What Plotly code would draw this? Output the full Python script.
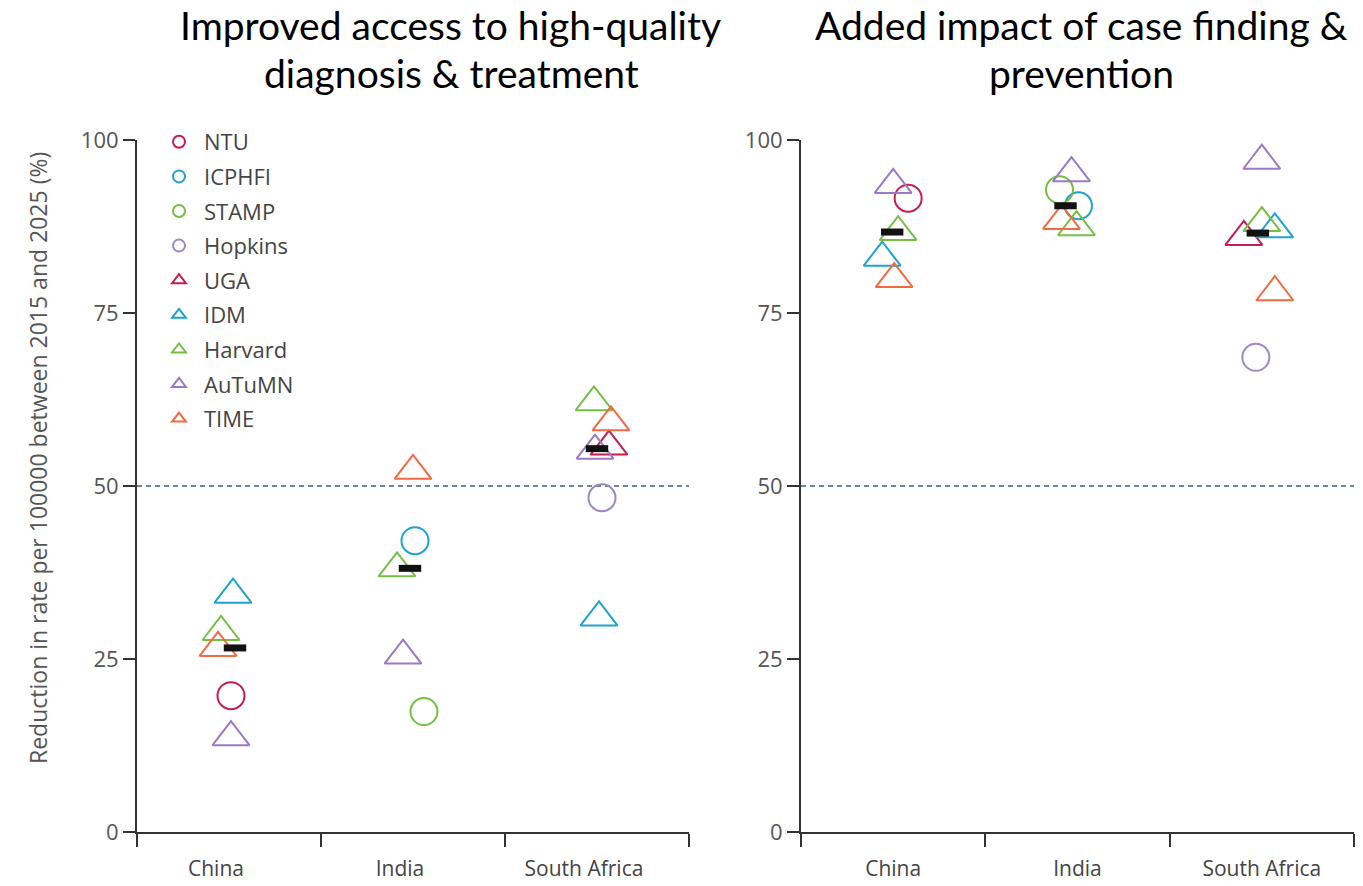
import numpy as np
import plotly.graph_objects as go
from plotly.subplots import make_subplots

# ---- data -------------------------------------------------------------
countries = ["China", "India", "South Africa"]
models = ["NTU", "ICPHFI", "STAMP", "Hopkins", "UGA", "IDM", "Harvard", "AuTuMN", "TIME"]

# Reduction in incidence (%) 2015-2025, ordered China, India, South Africa
# Scenario 1: improved access to high-quality diagnosis & treatment
access_NTU = [19.7, None, None]
access_ICPHFI = [None, 42.1, None]
access_STAMP = [None, 17.4, None]
access_Hopkins = [None, None, 48.3]
access_UGA = [None, None, 55.7]
access_IDM = [34.3, None, 31.0]
access_Harvard = [28.9, 38.1, 62.1]
access_AuTuMN = [13.7, 25.5, 55.1]
access_TIME = [26.6, 52.2, 59.2]

# Scenario 2: added impact of case finding & prevention
added_NTU = [91.6, None, None]
added_ICPHFI = [None, 90.5, None]
added_STAMP = [None, 92.8, None]
added_Hopkins = [None, None, 68.6]
added_UGA = [None, None, 86.0]
added_IDM = [83.0, None, 87.1]
added_Harvard = [86.7, 87.4, 88.0]
added_AuTuMN = [93.5, 95.2, 97.0]
added_TIME = [79.9, 88.3, 78.0]

target_reduction = 50

panel_titles = ["Improved access to high-quality", "diagnosis & treatment",
                "Added impact of case finding &", "prevention"]
y_title = "Reduction in rate per 100000 between 2015 and 2025 (%)"

access = {"NTU": access_NTU, "ICPHFI": access_ICPHFI, "STAMP": access_STAMP,
          "Hopkins": access_Hopkins, "UGA": access_UGA, "IDM": access_IDM,
          "Harvard": access_Harvard, "AuTuMN": access_AuTuMN, "TIME": access_TIME}
added = {"NTU": added_NTU, "ICPHFI": added_ICPHFI, "STAMP": added_STAMP,
         "Hopkins": added_Hopkins, "UGA": added_UGA, "IDM": added_IDM,
         "Harvard": added_Harvard, "AuTuMN": added_AuTuMN, "TIME": added_TIME}

# ---- styling ----------------------------------------------------------
CRIMSON, CYAN, GREEN, PURPLE, ORANGE = "#c41d50", "#1ea3cf", "#76bf45", "#9c78c6", "#f26a43"
style = {
    "NTU": ("circle-open", CRIMSON), "ICPHFI": ("circle-open", CYAN),
    "STAMP": ("circle-open", GREEN), "Hopkins": ("circle-open", "#9d88c4"),
    "UGA": ("triangle-up-open", CRIMSON), "IDM": ("triangle-up-open", CYAN),
    "Harvard": ("triangle-up-open", GREEN), "AuTuMN": ("triangle-up-open", PURPLE),
    "TIME": ("triangle-up-open", ORANGE),
}

# horizontal dodge (pixels) so overlapping markers stay visible
dodge_access = {"NTU": [2, 0, 0], "ICPHFI": [0, 2, 0], "STAMP": [0, 11, 0],
                "Hopkins": [0, 0, 5], "UGA": [0, 0, 12], "IDM": [4, 0, 2],
                "Harvard": [-8, -16, -3], "AuTuMN": [2, -10, -2], "TIME": [-11, 0, 14],
                "median": [6, -3, 0]}
dodge_added = {"NTU": [15, 0, 0], "ICPHFI": [0, 1, 0], "STAMP": [0, -18, 0],
               "Hopkins": [0, 0, -6], "UGA": [0, 0, -18], "IDM": [-11, 0, 13],
               "Harvard": [5, -1, 0], "AuTuMN": [0, -6, 0], "TIME": [1, -16, 13],
               "median": [-1, -12, -4]}
BAND_PX = 184.5  # pixel width of one country band

W, H = 1363, 886
ML, MR, MT, MB = 137, 9, 140, 54
PW, PH = W - ML - MR, H - MT - MB


def px_x(px):
    return (px - ML) / PW


def px_y(py):
    return (H - MB - py) / PH


fig = make_subplots(rows=1, cols=2, horizontal_spacing=0.0)

for col, (data, dodge) in enumerate([(access, dodge_access), (added, dodge_added)], start=1):
    for m in models:
        vals = data[m]
        xs, ys = [], []
        for i, v in enumerate(vals):
            if v is not None:
                xs.append(i + 0.5 + dodge[m][i] / BAND_PX)
                ys.append(v)
        sym, colr = style[m]
        fig.add_trace(go.Scatter(
            x=xs, y=ys, mode="markers", name=m, legendgroup=m,
            showlegend=(col == 1),
            marker=dict(symbol=sym, size=32 if "triangle" in sym else 27,
                        color=colr, line=dict(width=2, color=colr)),
        ), row=1, col=col)
    # median of the model estimates per country
    med_x, med_y = [], []
    for i in range(len(countries)):
        vals = [data[m][i] for m in models if data[m][i] is not None]
        med_x.append(i + 0.5 + dodge["median"][i] / BAND_PX)
        med_y.append(float(np.median(vals)))
    fig.add_trace(go.Scatter(
        x=med_x, y=med_y, mode="markers", showlegend=False, name="median",
        marker=dict(symbol="line-ew", size=16, color="#111",
                    line=dict(width=7, color="#111")),
    ), row=1, col=col)

dom_left = [0, px_x(689)]
dom_right = [px_x(801), 1]

axis_common = dict(showline=True, linecolor="#333", linewidth=2, mirror=False,
                   showgrid=False, zeroline=False, automargin=False)
xaxis_common = dict(axis_common, range=[0, 3], tickmode="array",
                    tickvals=[0.5, 1.5, 2.5], ticktext=countries, ticks="",
                    ticklabelstandoff=17,
                    tickfont=dict(family="Open Sans", size=21, color="#444"),
                    minor=dict(tickmode="linear", tick0=0, dtick=1, ticks="outside",
                               ticklen=13, tickwidth=2, tickcolor="#333"))
yaxis_common = dict(axis_common, range=[0, 100], tickmode="array",
                    tickvals=[0, 25, 50, 75, 100], ticks="outside", ticklen=12,
                    tickwidth=2, tickcolor="#333",
                    tickfont=dict(family="Open Sans", size=22, color="#555"))

fig.update_layout(
    xaxis=dict(xaxis_common, domain=dom_left, ticklabelshift=-13),
    xaxis2=dict(xaxis_common, domain=dom_right),
    yaxis=yaxis_common,
    yaxis2=dict(yaxis_common),
)

for xr, yr in [("x", "y"), ("x2", "y2")]:
    fig.add_shape(type="line", xref=xr, yref=yr, x0=0, x1=3,
                  y0=target_reduction, y1=target_reduction,
                  line=dict(color="#3a6272", width=1.5, dash="5px,4px"), layer="below")

title_font = dict(family="Lato", size=39, color="#000")
for text, cx, cy in [(panel_titles[0], 450, 25), (panel_titles[1], 451, 73),
                     (panel_titles[2], 1081, 25), (panel_titles[3], 1081, 73)]:
    fig.add_annotation(text=text, xref="paper", yref="paper", x=px_x(cx), y=px_y(cy),
                       xanchor="center", yanchor="middle", showarrow=False, font=title_font)

fig.add_annotation(text=y_title, xref="paper", yref="paper", x=px_x(38), y=px_y(458),
                   xanchor="center", yanchor="middle", textangle=-90, showarrow=False,
                   font=dict(family="Open Sans", size=23, color="#555"))

fig.update_layout(
    width=W, height=H, autosize=False,
    margin=dict(l=ML, r=MR, t=MT, b=MB),
    paper_bgcolor="white", plot_bgcolor="white",
    legend=dict(x=px_x(154), y=px_y(121), xanchor="left", yanchor="top",
                bgcolor="rgba(0,0,0,0)", borderwidth=0, itemsizing="constant",
                itemwidth=40, tracegroupgap=3,
                font=dict(family="Open Sans", size=22, color="#444")),
)

fig.write_html("out.html")
